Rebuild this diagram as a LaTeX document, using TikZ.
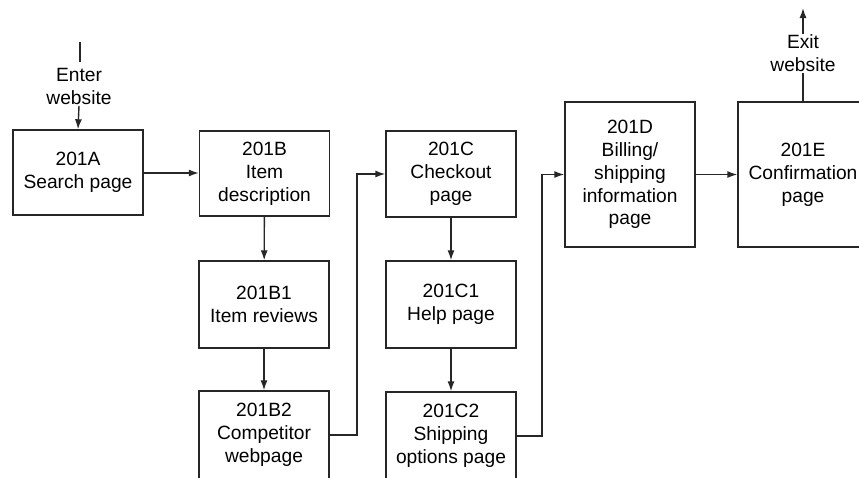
\documentclass[tikz,border=0pt]{standalone}
\usepackage{fontspec}
\setmainfont{Liberation Sans}
\usetikzlibrary{arrows.meta}
\begin{document}
\begin{tikzpicture}[x=1pt,y=-1pt,
  page/.style={draw=black!85, line width=1.4pt, minimum width=130pt, align=center,
    inner sep=2pt, font=\fontsize{19.2}{22.8}\selectfont},
  lbl/.style={align=center, inner sep=1pt, font=\fontsize{19.2}{22.8}\selectfont},
  flow/.style={draw=black!85, line width=1.4pt, -{Latex[length=10pt,width=7pt]}},
  plain/.style={draw=black!85, line width=1.4pt}]
\clip (0,0) rectangle (859,477);
\fill[white] (0,0) rectangle (859,477);

% page boxes
\node[page, minimum height=85pt] (A) at (78,172.5) {201A\\Search page};
\node[page, minimum height=85pt] (B) at (264.5,173.5) {201B\\Item\\description};
\node[page, minimum height=87pt] (B1) at (264,304.5) {201B1\\Item reviews};
\node[page, minimum height=88pt] (B2) at (264,435) {201B2\\Competitor\\webpage};
\node[page, minimum height=86pt] (C) at (451,174) {201C\\Checkout\\page};
\node[page, minimum height=87pt] (C1) at (451,304.5) {201C1\\Help page};
\node[page, minimum height=88pt] (C2) at (451,436) {201C2\\Shipping\\options page};
\node[page, minimum height=145pt] (D) at (630,174.5) {201D\\Billing/\\shipping\\information\\page};
\node[page, minimum height=145pt] (E) at (803,174.5) {201E\\Confirmation\\page};

% entry and exit labels
\coordinate (in) at (80,42);
\coordinate (inend) at (80,62);
\node[lbl] (enter) at (79,86.5) {Enter\\website};
\node[lbl] (exit) at (803,53.5) {Exit\\website};
\coordinate (out) at (803,8);

% connectors
\draw[plain] (in) -- (inend);
\draw[flow] (enter.south) -- (A.north);
\draw[plain] (E.north) -- (exit.south);
\draw[flow] (exit.north) -- (out);

\draw[flow] (A.east |- 0,173) -- (B.west |- 0,173);
\draw[flow] (B) -- (B1);
\draw[flow] (B1) -- (B2);
\draw[flow] (B2.east) -- (357,435) |- (C.west);
\draw[flow] (C) -- (C1);
\draw[flow] (C1) -- (C2);
\draw[flow] (C2.east) -- (542,436) |- (D.west);
\draw[flow] (D) -- (E);
\end{tikzpicture}
\end{document}
